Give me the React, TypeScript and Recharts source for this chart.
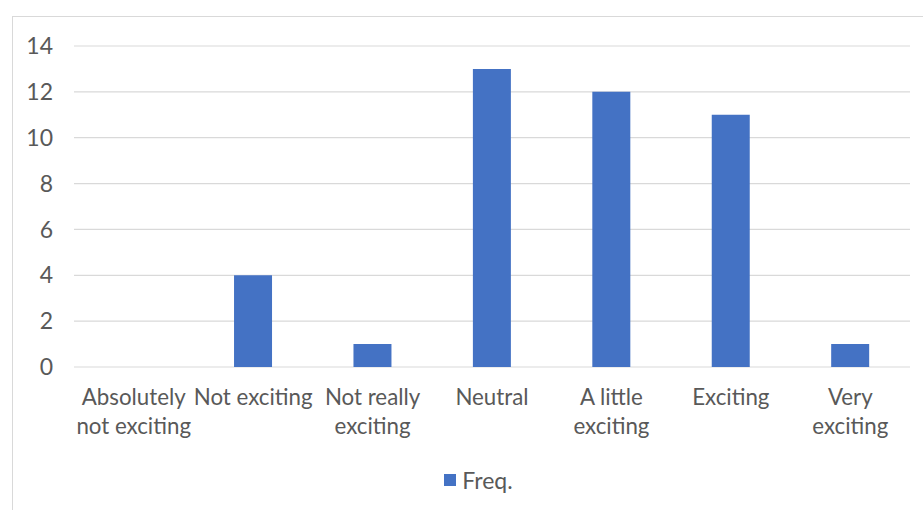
import { BarChart, Bar, XAxis, YAxis, CartesianGrid, Legend } from "recharts";

const categories = [
  "Absolutely\nnot exciting",
  "Not exciting",
  "Not really\nexciting",
  "Neutral",
  "A little\nexciting",
  "Exciting",
  "Very\nexciting",
];
const freq = [0, 4, 1, 13, 12, 11, 1];
const yTicks = [0, 2, 4, 6, 8, 10, 12, 14];

const data = categories.map((name, i) => ({ name, freq: freq[i] }));

const FONT = "Lato, 'Liberation Sans', sans-serif";
const TEXT = "#595959";
const BLUE = "#4472C4";

function CategoryTick({ x, y, payload }: any) {
  const lines = String(payload.value).split("\n");
  return (
    <text x={x} y={y} textAnchor="middle" fill={TEXT} fontSize={22.3} fontFamily={FONT}>
      {lines.map((line, i) => (
        <tspan key={i} x={x} dy={i === 0 ? 38 : 29}>
          {line}
        </tspan>
      ))}
    </text>
  );
}

function FreqLegend() {
  return (
    <div
      style={{
        display: "flex",
        justifyContent: "center",
        alignItems: "center",
        fontFamily: FONT,
        fontSize: 23,
        color: TEXT,
        height: 40,
        paddingLeft: 34,
        paddingTop: 3,
      }}
    >
      <span style={{ width: 12, height: 12, background: BLUE, marginRight: 6, display: "inline-block" }} />
      <span>Freq.</span>
    </div>
  );
}

export default function App() {
  return (
    <div
      style={{
        position: "absolute",
        left: 12,
        top: 16,
        width: 930,
        height: 520,
        borderLeft: "1.5px solid #d9d9d9",
        borderTop: "1.5px solid #d9d9d9",
        background: "#fff",
      }}
    >
      <BarChart
        width={911}
        height={494}
        data={data}
        margin={{ top: 29, right: 14, left: 0, bottom: 14 }}
        barCategoryGap="34%"
      >
        <CartesianGrid vertical={false} stroke="#d9d9d9" strokeWidth={1.2} />
        <XAxis
          dataKey="name"
          axisLine={false}
          tickLine={false}
          tickSize={0}
          tickMargin={0}
          height={90}
          interval={0}
          tick={<CategoryTick />}
        />
        <YAxis
          domain={[0, 14]}
          ticks={yTicks}
          axisLine={false}
          tickLine={false}
          tickSize={0}
          tickMargin={21}
          width={61}
          tick={{ fill: TEXT, fontSize: 23, fontFamily: FONT }}
        />
        <Legend verticalAlign="bottom" height={40} content={<FreqLegend />} />
        <Bar dataKey="freq" name="Freq." fill={BLUE} isAnimationActive={false} />
      </BarChart>
    </div>
  );
}
